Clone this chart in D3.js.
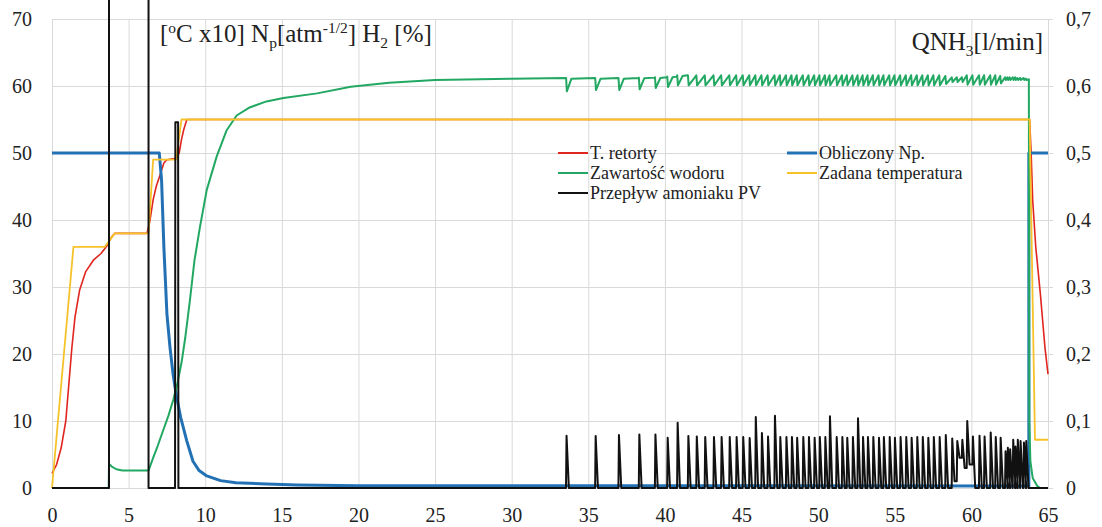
<!DOCTYPE html>
<html>
<head>
<meta charset="utf-8">
<script src="https://cdn.jsdelivr.net/npm/d3@7"></script>
<style>
  body { margin: 0; background: #fff; }
  svg text { font-family: "Liberation Serif", "Times New Roman", "DejaVu Serif", serif !important; fill: #222; }
</style>
</head>
<body>
<div id="chart"></div>
<script>
// Time ticks (bottom) and both value axes
const xTicks = [0, 5, 10, 15, 20, 25, 30, 35, 40, 45, 50, 55, 60, 65];
const leftTicks = [0, 10, 20, 30, 40, 50, 60, 70];
const rightTicks = [0, 0.1, 0.2, 0.3, 0.4, 0.5, 0.6, 0.7];

// T. retorty [°C x10]
const retorta = [[0, 2.2], [0.3, 3.5], [0.6, 6], [0.9, 10], [1.1, 15.5], [1.3, 21], [1.5, 25.5], [1.8, 29.5],
  [2.2, 32.3], [2.7, 34], [3.2, 35], [3.6, 36.2], [3.9, 37.5], [4.1, 38], [6.2, 38], [6.4, 40], [6.6, 43],
  [6.8, 45], [7.05, 46.7], [7.3, 48.5], [7.5, 49], [8.1, 49.2], [8.3, 50], [8.45, 52], [8.6, 53.5], [8.8, 55],
  [63.8, 55], [63.9, 50], [64.0, 43], [64.2, 36], [64.5, 29], [64.8, 21], [65, 17]];

// Zadana temperatura [°C x10]
const zadana = [[0, 0], [1.4, 36], [3.45, 36], [4.1, 38], [6.3, 38], [6.6, 49], [8.1, 49], [8.45, 55],
  [63.8, 55], [64.15, 7.2], [65, 7.2]];

// Obliczony Np.
const np = [[0, 50], [7.0, 50], [7.15, 46], [7.3, 36], [7.5, 26], [7.7, 21], [7.9, 17], [8.1, 14],
  [8.4, 10.5], [8.8, 7], [9.2, 4], [9.6, 2.6], [10.1, 1.8], [11, 1.1], [12, 0.8], [14, 0.6], [16, 0.45],
  [20, 0.35], [63.75, 0.3], [63.75, 50], [65, 50]];

// Zawartość wodoru H2 [%] - smooth part, before the dips
const wodor = [[0, 0], [3.7, 0], [3.72, 3.6], [3.9, 3.2], [4.2, 2.8], [4.6, 2.6], [6.3, 2.6], [6.6, 4.5],
  [6.9, 6.3], [7.27, 8.7], [7.6, 10.8], [7.92, 13.2], [8.2, 15.8], [8.46, 18.8], [8.7, 22.5], [9.0, 28],
  [9.3, 34], [9.66, 39], [10.1, 44.5], [10.75, 49.5], [11.4, 53.4], [12.05, 55.6], [12.9, 56.8], [14, 57.7],
  [15.1, 58.2], [17.3, 58.9], [19.5, 59.9], [22, 60.5], [25, 60.9], [30, 61.1], [33.5, 61.2]];
const wodorEnd = [[63.75, 61], [63.78, 10], [63.85, 4], [64.0, 1.5], [64.3, 0.3], [64.5, 0], [65, 0]];

// Przepływ amoniaku PV [l/min] - start-up part
const amoniak = [[0, 0], [3.72, 0], [3.72, 1.2], [6.3, 1.2], [6.3, 0], [8.03, 0], [8.05, 0.546],
  [8.23, 0.546], [8.25, 0], [33.5, 0]];

// pulses of ammonia and the matching H2 swing
const pulseT = [33.55, 35.45, 36.97, 38.3, 39.35, 40.15, 40.8, 41.5, 42.05, 42.6,
  43.17, 43.67, 44.2, 44.65, 45.08, 45.5, 45.9, 46.3, 46.7, 47.15,
  47.5, 47.9, 48.26, 48.6, 49.0, 49.37, 49.74, 50.08, 50.44, 50.74,
  51.18, 51.55, 51.87, 52.24, 52.57, 52.9, 53.22, 53.57, 53.94, 54.26,
  54.64, 54.98, 55.35, 55.72, 56.07, 56.44, 56.8, 57.16, 57.52, 57.9,
  58.3, 58.72, 59.05, 59.38, 59.7, 60.07, 60.5, 60.83, 61.23, 61.56,
  61.88, 62.2, 62.35, 62.5, 62.7, 62.85, 63.0, 63.18, 63.4, 63.55];
const pulsePeak = [0.078, 0.0775, 0.079, 0.08, 0.08, 0.075, 0.0975, 0.0775, 0.077, 0.076,
  0.076, 0.076, 0.076, 0.076, 0.076, 0.0745, 0.106, 0.082, 0.077, 0.108,
  0.076, 0.076, 0.076, 0.075, 0.076, 0.076, 0.075, 0.076, 0.076, 0.107,
  0.076, 0.076, 0.075, 0.076, 0.104, 0.076, 0.076, 0.076, 0.075, 0.076,
  0.076, 0.075, 0.076, 0.076, 0.075, 0.076, 0.076, 0.075, 0.076, 0.076,
  0.079, 0.074, 0.07, 0.072, 0.1, 0.077, 0.078, 0.077, 0.083, 0.076,
  0.075, 0.055, 0.06, 0.058, 0.072, 0.062, 0.072, 0.07, 0.068, 0.07];
const pulseLow = [0, 0, 0, 0, 0, 0, 0, 0, 0, 0,
  0, 0, 0, 0, 0, 0, 0, 0, 0, 0,
  0, 0, 0, 0, 0, 0, 0, 0, 0, 0,
  0, 0, 0, 0, 0, 0, 0, 0, 0, 0,
  0, 0, 0, 0, 0, 0, 0, 0, 0, 0,
  0, 0.01, 0.045, 0.03, 0.035, 0, 0, 0, 0, 0,
  0, 0, 0, 0, 0, 0, 0, 0, 0, 0];
const wodorHigh = [61.2, 61.2, 61.2, 61.25, 61.3, 61.4, 61.6, 61.6, 61.6, 61.6,
  61.6, 61.6, 61.6, 61.6, 61.6, 61.6, 61.6, 61.6, 61.6, 61.6,
  61.6, 61.6, 61.6, 61.6, 61.6, 61.6, 61.6, 61.6, 61.6, 61.6,
  61.6, 61.6, 61.6, 61.6, 61.6, 61.6, 61.6, 61.6, 61.6, 61.6,
  61.6, 61.6, 61.6, 61.6, 61.6, 61.6, 61.6, 61.6, 61.6, 61.6,
  61.5, 61.3, 61.3, 61.3, 61.6, 61.6, 61.6, 61.6, 61.6, 61.6,
  61.5, 61.3, 61.3, 61.3, 61.3, 61.3, 61.2, 61.2, 61.2, 61.1];
const wodorLow = [59.2, 59.4, 59.4, 59.5, 59.7, 59.85, 60.1, 60.1, 60.1, 60.1,
  60.1, 60.1, 60.1, 60.1, 60.1, 60.1, 60.1, 60.1, 60.1, 60.1,
  60.1, 60.1, 60.1, 60.1, 60.1, 60.1, 60.1, 60.1, 60.1, 60.1,
  60.1, 60.1, 60.1, 60.1, 60.1, 60.1, 60.1, 60.1, 60.1, 60.1,
  60.1, 60.1, 60.1, 60.1, 60.1, 60.1, 60.1, 60.1, 60.1, 60.1,
  60.3, 60.6, 60.6, 60.6, 60.2, 60.2, 60.2, 60.2, 60.2, 60.2,
  60.4, 60.9, 60.9, 60.9, 60.9, 60.9, 60.9, 60.9, 60.9, 60.9];

const legendNames = ['T. retorty', 'Obliczony Np.', 'Zawartość wodoru', 'Zadana temperatura', 'Przepływ amoniaku PV'];
const colors = { red: '#e0251f', blue: '#2371b5', green: '#22a862', yellow: '#f6c22a', black: '#111' };
const serif = '"Liberation Serif", "Times New Roman", "DejaVu Serif", serif';

const W = 1102, H = 527;
const plot = { left: 52, right: 1048, top: 19, bottom: 488 };

const svg = d3.select('#chart').append('svg')
  .attr('width', W)
  .attr('height', H);

const x = d3.scaleLinear().domain([0, 65]).range([plot.left, plot.right]);
const yL = d3.scaleLinear().domain([0, 70]).range([plot.bottom, plot.top]);
const yR = d3.scaleLinear().domain([0, 0.7]).range([plot.bottom, plot.top]);

// gridlines
svg.append('g')
  .attr('transform', `translate(0, ${plot.bottom})`)
  .call(d3.axisBottom(x).tickValues(xTicks).tickSize(-(plot.bottom - plot.top)).tickFormat(''))
  .call(g => g.select('.domain').remove())
  .call(g => g.selectAll('line').attr('stroke', '#d9d9d9'));
svg.append('g')
  .attr('transform', `translate(${plot.left}, 0)`)
  .call(d3.axisLeft(yL).tickValues(leftTicks).tickSize(-(plot.right - plot.left + 5)).tickFormat(''))
  .call(g => g.select('.domain').remove())
  .call(g => g.selectAll('line').attr('stroke', '#d9d9d9'));

// axis labels
function styleLabels(g) {
  g.select('.domain').remove();
  g.attr('font-family', null);
  g.selectAll('text').style('font-family', serif).attr('font-size', 20).attr('fill', '#222');
}

svg.append('g')
  .attr('transform', `translate(${plot.left - 20}, 0)`)
  .call(d3.axisLeft(yL).tickValues(leftTicks).tickSize(0).tickPadding(0))
  .call(styleLabels);

svg.append('g')
  .attr('transform', `translate(${plot.right + 18}, 0)`)
  .call(d3.axisRight(yR).tickValues(rightTicks).tickSize(0).tickPadding(0)
    .tickFormat(d => d === 0 ? '0' : d3.format('.1f')(d).replace('.', ',')))
  .call(styleLabels);

svg.append('g')
  .attr('transform', `translate(0, ${plot.bottom + 20})`)
  .call(d3.axisBottom(x).tickValues(xTicks).tickSize(0).tickPadding(0))
  .call(styleLabels);

// build pulse series from the pulse arrays
const amoniakAll = amoniak.slice();
pulseT.forEach((t, i) => {
  amoniakAll.push([t - 0.005, i > 0 ? pulseLow[i - 1] : 0], [t + 0.03, pulsePeak[i]], [t + 0.18, pulseLow[i]]);
});
amoniakAll.push([63.75, 0], [65, 0]);

const wodorAll = wodor.slice();
pulseT.forEach((t, i) => {
  wodorAll.push([t, wodorHigh[i]], [t + 0.05, wodorLow[i]]);
  const next = i < pulseT.length - 1 ? pulseT[i + 1] : 63.75;
  if (next - t > 0.6) wodorAll.push([t + 0.35, wodorHigh[i] - 0.1], [next - 0.02, wodorHigh[i]]);
});
wodorEnd.forEach(p => wodorAll.push(p));

const lineL = d3.line().x(d => x(d[0])).y(d => yL(d[1]));
const lineR = d3.line().x(d => x(d[0])).y(d => yR(d[1]));

const series = [
  { data: retorta, line: lineL, color: colors.red, width: 1.6 },
  { data: np, line: lineL, color: colors.blue, width: 3 },
  { data: wodorAll, line: lineL, color: colors.green, width: 2 },
  { data: zadana, line: lineL, color: colors.yellow, width: 1.8 },
  { data: amoniakAll, line: lineR, color: colors.black, width: 2 }
];

svg.append('g')
  .selectAll('path')
  .data(series)
  .enter()
  .append('path')
  .attr('d', s => s.line(s.data))
  .attr('fill', 'none')
  .attr('stroke', s => s.color)
  .attr('stroke-width', s => s.width)
  .attr('stroke-linejoin', 'round');

// unit titles with sub/superscripts
function richText(parent, xPos, yPos, parts, size, anchor) {
  const t = parent.append('text')
    .attr('x', xPos)
    .attr('y', yPos)
    .attr('font-size', size)
    .style('font-family', serif)
    .attr('text-anchor', anchor || 'start');
  let shift = 0;
  parts.forEach(p => {
    const target = p[1] === 'sup' ? -0.38 * size : p[1] === 'sub' ? 0.22 * size : 0;
    t.append('tspan')
      .attr('dy', target - shift)
      .attr('font-size', p[1] ? size * 0.62 : size)
      .text(p[0]);
    shift = target;
  });
  return t;
}

richText(svg, 160, 42, [['['], ['o', 'sup'], ['C x10] N'], ['p', 'sub'], ['[atm'], ['-1/2', 'sup'], ['] H'], ['2', 'sub'], [' [%]']], 25);
richText(svg, 1043, 50, [['QNH'], ['3', 'sub'], ['[l/min]']], 25, 'end');

// legend
const legendColors = [colors.red, colors.blue, colors.green, colors.yellow, colors.black];
const legendWidths = [2, 3, 2, 2, 2];
const legend = svg.append('g');
legendNames.forEach((name, i) => {
  const col = i % 2, row = Math.floor(i / 2);
  const lx = col === 0 ? 558 : 787;
  const ly = 153 + row * 20;
  legend.append('line')
    .attr('x1', lx).attr('x2', lx + 30)
    .attr('y1', ly).attr('y2', ly)
    .attr('stroke', legendColors[i])
    .attr('stroke-width', legendWidths[i]);
  legend.append('text')
    .attr('x', lx + 32)
    .attr('y', ly + 6)
    .attr('font-size', 18)
    .style('font-family', serif)
    .text(name);
});
</script>
</body>
</html>
